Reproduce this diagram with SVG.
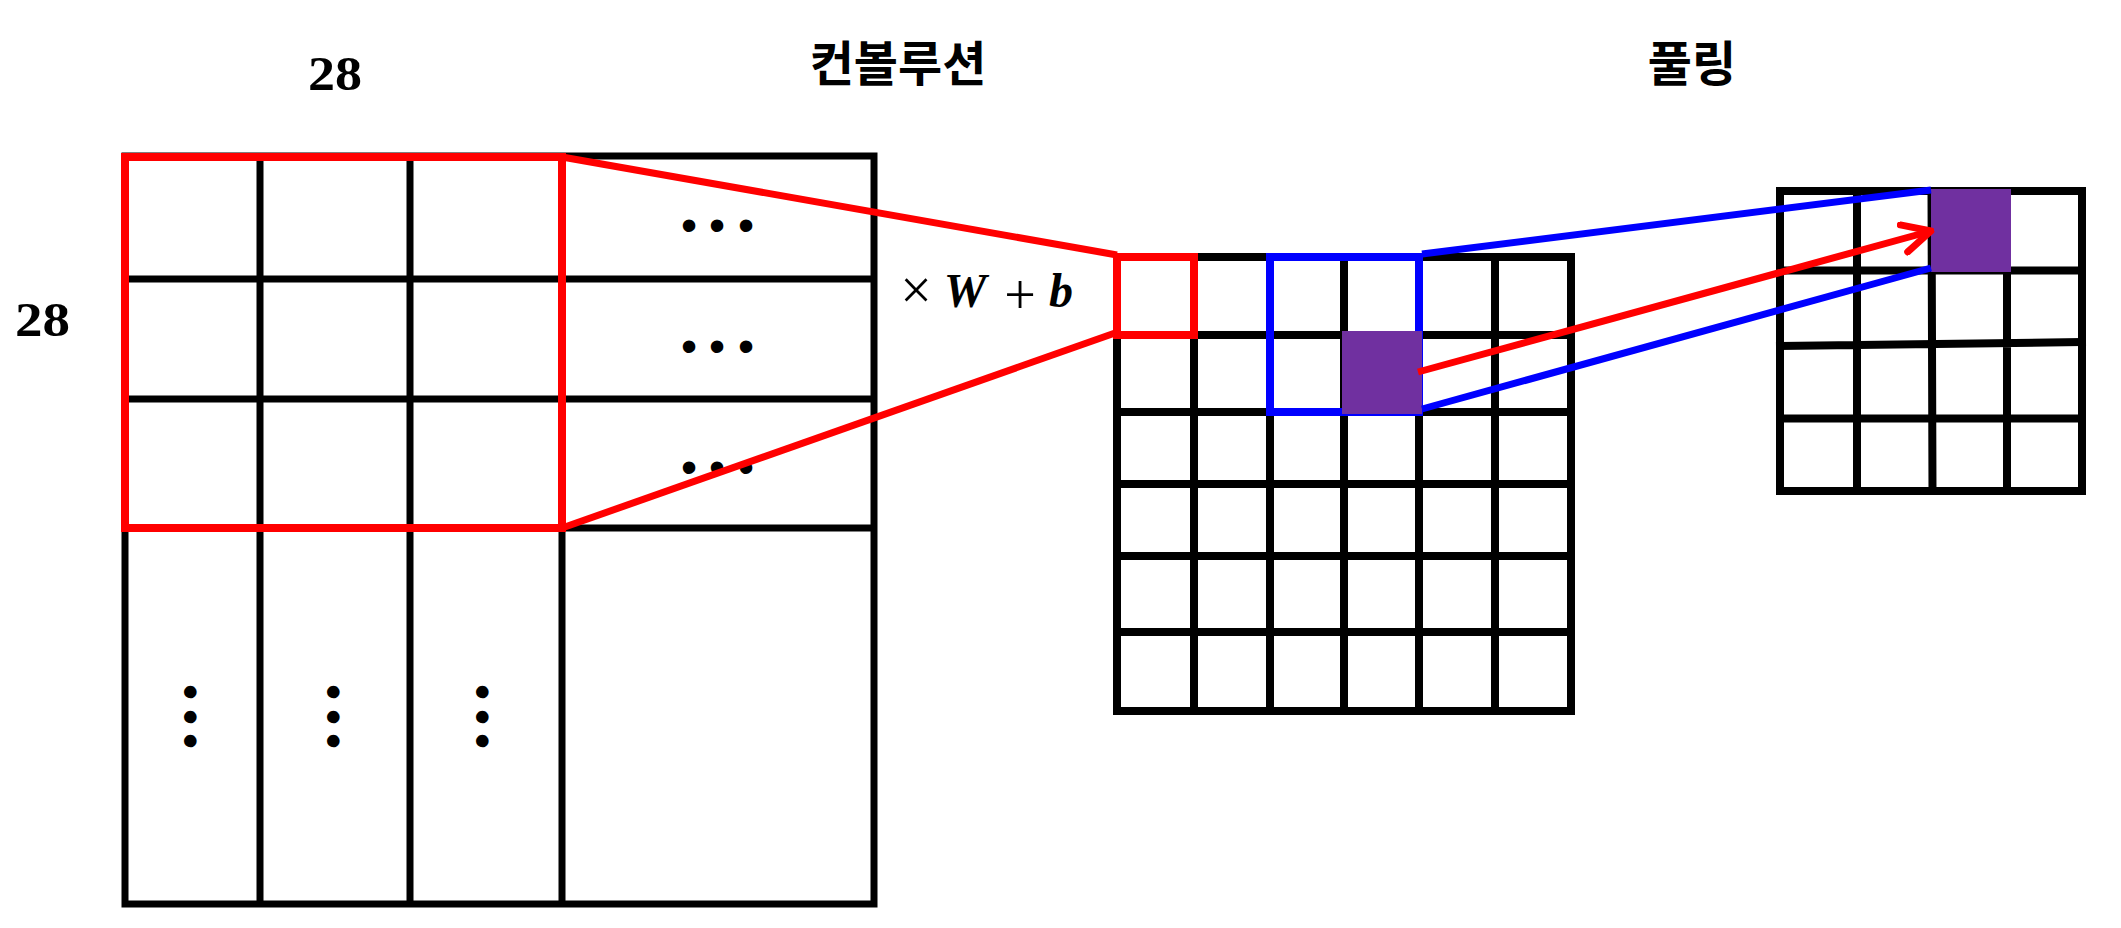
<svg xmlns="http://www.w3.org/2000/svg" width="2121" height="928" viewBox="0 0 2121 928">
<style>
.blk{fill:none;stroke:#000;stroke-width:8;stroke-linecap:square}
.thin{fill:none;stroke:#000;stroke-width:7}
.red{fill:none;stroke:#FF0000;stroke-width:8}
.blue{fill:none;stroke:#0000FF;stroke-width:8}
.cr{fill:none;stroke:#FF0000;stroke-width:7}
.cb{fill:none;stroke:#0000FF;stroke-width:7}
.pur{fill:#7030A0}
.num{font-family:"Liberation Serif",serif;font-weight:bold;font-size:48px;fill:#000}
.kr{font-family:"Noto Sans CJK KR","Noto Sans",sans-serif;font-weight:bold;font-size:48px;fill:#000}
.math{font-family:"Liberation Serif",serif;fill:#000;text-anchor:middle}
.op{font-size:56px}
.var{font-size:48px;font-weight:bold;font-style:italic}
.dots{font-family:"Liberation Sans",sans-serif;font-size:46px;fill:#000;text-anchor:middle}
</style>
<defs>
<marker id="chev" viewBox="0 0 10 10" refX="9" refY="5" markerWidth="5" markerHeight="5" markerUnits="strokeWidth" orient="auto">
<path d="M1,1 L9,5 L1,9" fill="none" stroke="#FF0000" stroke-width="2" stroke-linecap="round" stroke-linejoin="round"/>
</marker>
</defs>
<rect width="2121" height="928" fill="#fff"/>

<g id="labels">
<text class="num" x="308" y="90" textLength="54" lengthAdjust="spacingAndGlyphs">28</text>
<text class="num" x="15" y="336" textLength="55" lengthAdjust="spacingAndGlyphs">28</text>
<text class="kr" x="898" y="81" text-anchor="middle">컨볼루션</text>
<text class="kr" x="1692" y="81" text-anchor="middle">풀링</text>
<text class="math" y="307"><tspan class="op" x="916" y="309">×</tspan><tspan class="var" x="965" y="307">W</tspan><tspan class="op" x="1020" y="314">+</tspan><tspan class="var" x="1061" y="307">b</tspan></text>
</g>

<g id="input-grid">
<rect class="thin" x="125" y="156" width="749" height="748"/>
<path class="thin" d="M260,156V904M410,156V904M562,156V904M125,279H874M125,399H874M125,528H874"/>
<text class="dots" y="241"><tspan x="689">•</tspan><tspan x="717">•</tspan><tspan x="746">•</tspan></text>
<text class="dots" y="362"><tspan x="689">•</tspan><tspan x="717">•</tspan><tspan x="746">•</tspan></text>
<text class="dots" y="483"><tspan x="689">•</tspan><tspan x="717">•</tspan><tspan x="746">•</tspan></text>
<text class="dots" transform="translate(192,717) rotate(90)" y="17"><tspan x="-25">•</tspan><tspan x="0">•</tspan><tspan x="24">•</tspan></text>
<text class="dots" transform="translate(335,717) rotate(90)" y="17"><tspan x="-25">•</tspan><tspan x="0">•</tspan><tspan x="24">•</tspan></text>
<text class="dots" transform="translate(484,717) rotate(90)" y="17"><tspan x="-25">•</tspan><tspan x="0">•</tspan><tspan x="24">•</tspan></text>
<rect class="red" x="125" y="157" width="437" height="371"/>
</g>

<g id="conv-grid">
<rect class="blk" x="1117" y="257" width="454" height="454"/>
<path class="blk" d="M1194,257V711M1270,257V711M1344,257V711M1419,257V711M1495,257V711M1117,335H1571M1117,412H1571M1117,484H1571M1117,556H1571M1117,632H1571"/>
<rect class="red" x="1117" y="257" width="77" height="78"/>
<rect class="blue" x="1270" y="257" width="149" height="155"/>
<rect class="pur" x="1342" y="331" width="80" height="83"/>
</g>

<g id="pool-grid">
<rect class="blk" x="1780" y="191" width="302" height="300"/>
<path class="blk" d="M1857,191V491M1931.5,191L1932.5,491M2007,191V491M1780,270.5H2082M1780,346L2082,342M1780,418.5H2082"/>
<rect class="pur" x="1931" y="189" width="80" height="83"/>
</g>

<g id="connectors">
<path class="cr" d="M562,157L1117,255"/>
<path class="cr" d="M562,528L1115,333"/>
<path class="cb" d="M1422,254L1931,190"/>
<path class="cb" d="M1422,409L1931,268"/>
<path class="cr" d="M1418,372L1931,231" marker-end="url(#chev)"/>
</g>
</svg>
